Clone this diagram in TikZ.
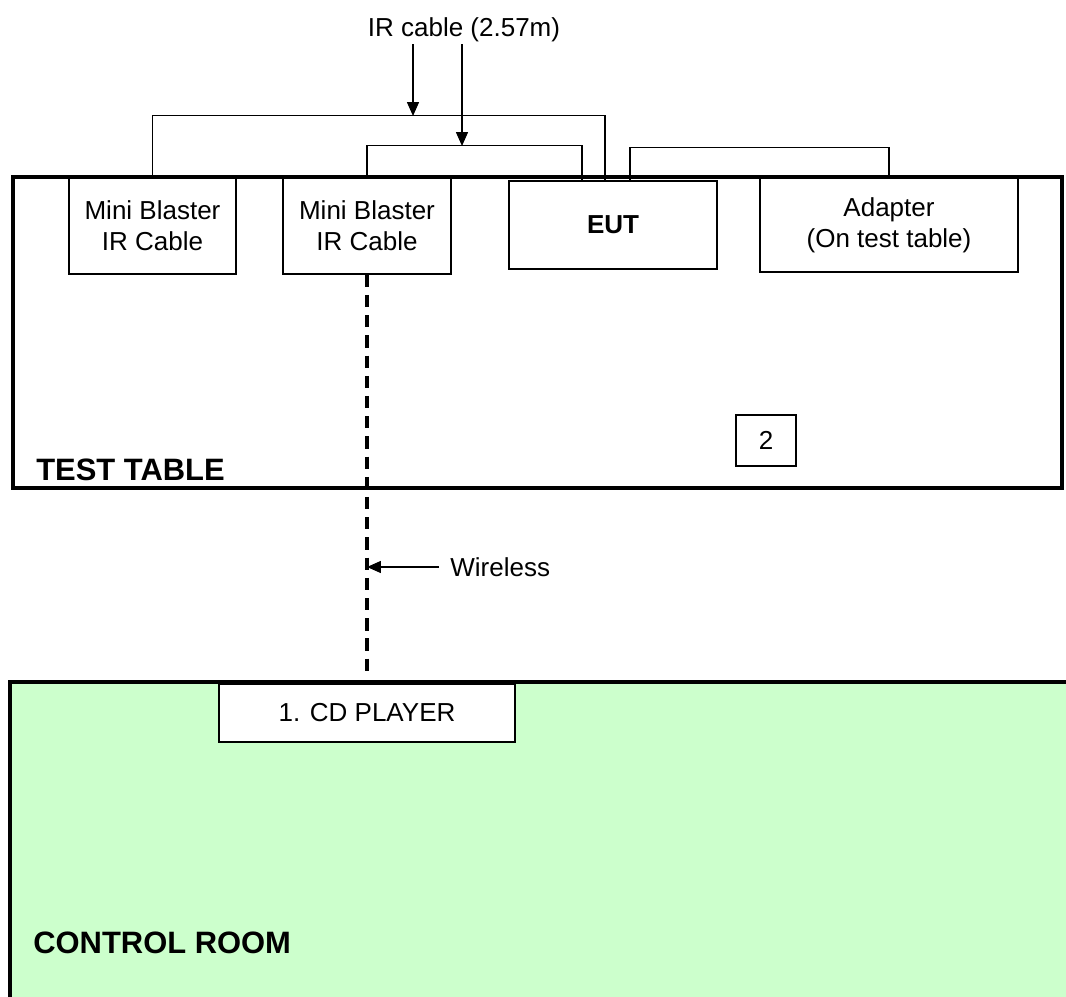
\documentclass[tikz,border=0pt]{standalone}
\usepackage{fontspec}
\setmainfont{Liberation Sans}
\usetikzlibrary{arrows.meta, positioning, calc}
\definecolor{roomgreen}{RGB}{204, 255, 204}

\begin{document}
\begin{tikzpicture}[
    x=0.02cm, y=-0.02cm,
    >={Triangle[length=0.28cm, width=0.24cm]},
    devbox/.style={draw, line width=0.85pt, align=center, inner sep=0pt,
        font=\fontsize{14.8}{17.6}\selectfont},
    wall/.style={line width=2.3pt},
    cable/.style={line width=0.85pt},
    ptr/.style={->, line width=0.85pt},
    air/.style={line width=2pt, dash pattern=on 7pt off 4.5pt},
    roomlabel/.style={font=\fontsize{17.6}{21}\selectfont\bfseries, anchor=west, inner sep=0pt}
]
    \path[use as bounding box, clip] (0,0) rectangle (1066,997);

    \draw[wall, fill=roomgreen] (10,682) rectangle (1080,1010);
    \node[devbox, fill=white, minimum width=5.92cm, minimum height=1.16cm] (cd) at (367,713) {1. CD PLAYER};
    \node[roomlabel] (ctl) at (33,943) {CONTROL ROOM};

    \node[devbox, minimum width=3.34cm, minimum height=1.92cm] (mb1) at (152.5,226) {Mini Blaster\\IR Cable};
    \node[devbox, minimum width=3.36cm, minimum height=1.92cm] (mb2) at (367,226) {Mini Blaster\\IR Cable};
    \node[devbox, minimum width=4.16cm, minimum height=1.76cm,
        font=\fontsize{14.8}{17.6}\selectfont\bfseries] (eut) at (613,225) {EUT};
    \node[devbox, minimum width=5.16cm, minimum height=1.88cm] (adp) at (889,225) {Adapter\\(On test table)};
    \node[devbox, minimum width=1.2cm, minimum height=1.02cm] (two) at (766,440.5) {2};

    \draw[wall] (13,177) rectangle (1062,488);
    \node[roomlabel] (tbl) at (36,470) {TEST TABLE};

    \draw[cable] (mb1.north) -- ++(0,-62) -| ($(eut.north)+(-8,0)$);
    \draw[cable] (mb2.north) -- ++(0,-32) -| ($(eut.north)+(-31,0)$);
    \draw[cable] ($(eut.north)+(17,0)$) -- ++(0,-33) -| (adp.north);

    \coordinate (j1) at (413,116);
    \coordinate (j2) at (462,146);
    \node[inner sep=1pt, font=\fontsize{14.8}{17.6}\selectfont] (lbl) at (464,30) {IR cable (2.57m)};
    \draw[ptr] (lbl.south -| j1) -- (j1);
    \draw[ptr] (lbl.south -| j2) -- (j2);

    \draw[air] (mb2.south) -- ($(cd.north)+(0,-11)$);
    \node[inner sep=0pt, anchor=west, font=\fontsize{14.8}{17.6}\selectfont] (wl) at (450,567) {Wireless};
    \draw[ptr] ($(wl.west)+(-11,0)$) -- (wl.west -| mb2.south);
\end{tikzpicture}
\end{document}
